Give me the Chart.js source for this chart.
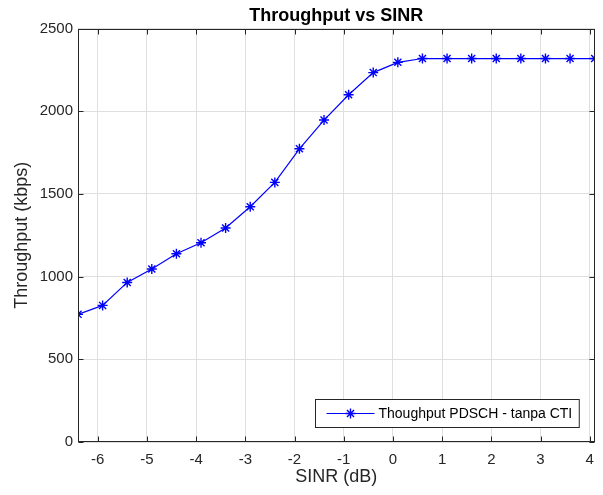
<!DOCTYPE html>
<html>
<head>
<meta charset="utf-8">
<script src="https://cdn.jsdelivr.net/npm/chart.js@4.4.1/dist/chart.umd.min.js"></script>
<style>
  html, body { margin: 0; padding: 0; background: #fff; }
</style>
</head>
<body>
<canvas id="chart" width="603" height="495"></canvas>
<script>
'use strict';

// Datos
const SINR_DB = [-6.4, -5.9, -5.4, -4.9, -4.4, -3.9, -3.4, -2.9, -2.4, -1.9, -1.4,
                 -0.9, -0.4, 0.1, 0.6, 1.1, 1.6, 2.1, 2.6, 3.1, 3.6, 4.1];
const THROUGHPUT = [772, 826, 965, 1046, 1138, 1205, 1294, 1423, 1570, 1773, 1947,
                    2100, 2234, 2296, 2319, 2319, 2319, 2319, 2319, 2319, 2319, 2319];
const X_TICKS = [-6, -5, -4, -3, -2, -1, 0, 1, 2, 3, 4];
const Y_TICKS = [0, 500, 1000, 1500, 2000, 2500];
const SERIES_LABEL = 'Thoughput PDSCH - tanpa CTI';

const FONT = "'Liberation Sans', Arial, Helvetica, sans-serif";
const AXIS_COLOR = '#262626';
const GRID_COLOR = '#dfdfdf';
const BLUE = '#0000ff';

Chart.defaults.font.family = FONT;
Chart.defaults.color = AXIS_COLOR;

// Caja del eje + marcas hacia dentro (estilo MATLAB)
const axesBox = {
  id: 'axesBox',
  afterDatasetsDraw(chart) {
    const { ctx, chartArea: a, scales: { x, y } } = chart;
    const L = Math.round(a.left) + 0.5, R = Math.round(a.right) - 0.5;
    const T = Math.round(a.top) + 0.5, B = Math.round(a.bottom) - 0.5;
    ctx.save();
    ctx.strokeStyle = AXIS_COLOR;
    ctx.lineWidth = 1;
    ctx.strokeRect(L, T, R - L, B - T);
    ctx.beginPath();
    X_TICKS.forEach(v => {
      const px = Math.round(x.getPixelForValue(v)) + 0.5;
      ctx.moveTo(px, B); ctx.lineTo(px, B - 5);
      ctx.moveTo(px, T); ctx.lineTo(px, T + 5);
    });
    Y_TICKS.forEach(v => {
      const py = Math.round(y.getPixelForValue(v)) + 0.5;
      ctx.moveTo(L, py); ctx.lineTo(L + 5, py);
      ctx.moveTo(R, py); ctx.lineTo(R - 5, py);
    });
    ctx.stroke();
    ctx.restore();
  },
};

// Leyenda dentro del área, abajo a la derecha
const legendBox = {
  id: 'legendBox',
  afterDraw(chart) {
    const { ctx, chartArea: a } = chart;
    const ds = chart.data.datasets[0];
    ctx.save();
    ctx.font = '14px ' + FONT;
    const tw = ctx.measureText(ds.label).width;
    const padL = 11, lineW = 48, gap = 4, padR = 7, h = 28;
    const w = padL + lineW + gap + tw + padR;
    const x0 = Math.round(a.right - 16 - w) + 0.5;
    const y0 = Math.round(a.bottom - 15 - h) + 0.5;
    ctx.fillStyle = '#fff';
    ctx.fillRect(x0, y0, w, h);
    ctx.strokeStyle = AXIS_COLOR;
    ctx.lineWidth = 1;
    ctx.strokeRect(x0, y0, w, h);
    const cy = y0 + h / 2;
    ctx.strokeStyle = BLUE;
    ctx.beginPath();
    ctx.moveTo(x0 + padL, cy);
    ctx.lineTo(x0 + padL + lineW, cy);
    ctx.stroke();
    ctx.lineWidth = 1.4;
    Chart.helpers.drawPoint(ctx, { pointStyle: 'star', radius: 5, rotation: 0, borderWidth: 1.4 },
                            x0 + padL + lineW / 2, cy);
    ctx.fillStyle = '#000';
    ctx.textBaseline = 'middle';
    ctx.fillText(ds.label, x0 + padL + lineW + gap, cy + 1);
    ctx.restore();
  },
};

new Chart(document.getElementById('chart'), {
  type: 'line',
  data: {
    datasets: [{
      label: SERIES_LABEL,
      data: SINR_DB.map((v, i) => ({ x: v, y: THROUGHPUT[i] })),
      borderColor: BLUE,
      backgroundColor: BLUE,
      borderWidth: 1.2,
      tension: 0,
      pointStyle: 'star',
      pointRadius: 5,
      pointBorderWidth: 1.4,
      pointBorderColor: BLUE,
      clip: 0,
    }],
  },
  options: {
    responsive: false,
    animation: false,
    layout: { padding: { left: 0, right: 2, top: 0, bottom: 0 } },
    plugins: {
      legend: { display: false },
      tooltip: { enabled: false },
      title: {
        display: true,
        text: 'Throughput vs SINR',
        fullSize: false,
        color: '#000',
        font: { size: 18, weight: 'bold' },
        padding: { top: 5, bottom: 2 },
      },
    },
    scales: {
      x: {
        type: 'linear',
        min: -6.4, max: 4.1,
        afterBuildTicks: s => { s.ticks = X_TICKS.map(v => ({ value: v })); },
        afterFit: s => { s.height = 53; },
        ticks: { font: { size: 15 }, color: AXIS_COLOR, padding: 9, maxRotation: 0, autoSkip: false,
                 callback: v => String(v) },
        grid: { color: GRID_COLOR, drawTicks: false },
        border: { display: false },
        title: { display: true, text: 'SINR (dB)', font: { size: 18 }, color: AXIS_COLOR,
                 padding: { top: 0, bottom: 7 } },
      },
      y: {
        min: 0, max: 2500,
        afterBuildTicks: s => { s.ticks = Y_TICKS.map(v => ({ value: v })); },
        afterFit: s => { s.width = 78; },
        ticks: { font: { size: 15 }, color: AXIS_COLOR, padding: 5, callback: v => String(v) },
        grid: { color: GRID_COLOR, drawTicks: false },
        border: { display: false },
        title: { display: true, text: 'Throughput (kbps)', font: { size: 18 }, color: AXIS_COLOR,
                 padding: { top: 11, bottom: 0 } },
      },
    },
  },
  plugins: [axesBox, legendBox],
});
</script>
</body>
</html>
